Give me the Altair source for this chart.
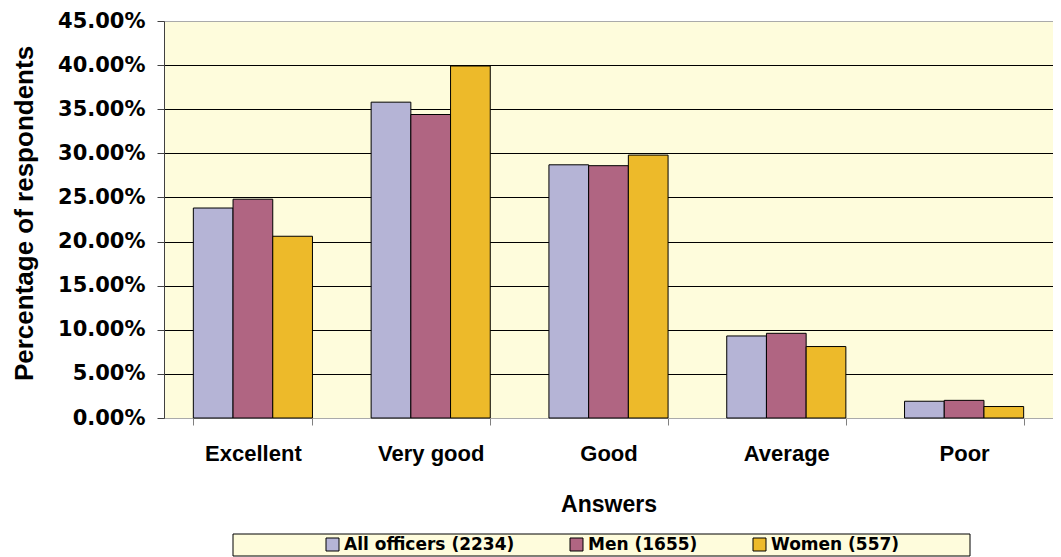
import altair as alt
import pandas as pd

categories = ["Excellent", "Very good", "Good", "Average", "Poor"]
series_names = ["All officers (2234)", "Men (1655)", "Women (557)"]
all_officers = [0.238, 0.358, 0.287, 0.093, 0.019]
men = [0.248, 0.344, 0.286, 0.096, 0.020]
women = [0.206, 0.399, 0.298, 0.081, 0.013]
colors = ["#B5B4D6", "#B06582", "#EDBA2A"]
y_ticks = [0, 0.05, 0.10, 0.15, 0.20, 0.25, 0.30, 0.35, 0.40, 0.45]

rows = []
for name, vals in zip(series_names, [all_officers, men, women]):
    for c, v in zip(categories, vals):
        rows.append({"answer": c, "series": name, "value": v})
df = pd.DataFrame(rows)

bars = alt.Chart(df).mark_bar(stroke="black", strokeWidth=1).encode(
    x=alt.X(
        "answer:N",
        sort=categories,
        scale=alt.Scale(paddingInner=0.33, paddingOuter=0.165),
        axis=alt.Axis(
            title="Answers",
            labelAngle=0,
            tickBand="extent",
            tickSize=7,
            tickColor="#808080",
            domainColor="#AAAAAA",
            labelFont="Liberation Sans",
            labelFontSize=22,
            labelFontWeight="bold",
            labelColor="black",
            labelPadding=18,
            titleFont="Liberation Sans",
            titleFontSize=23,
            titleFontWeight="bold",
            titleColor="black",
            titleY=93,
            titleBaseline="alphabetic",
        ),
    ),
    xOffset=alt.XOffset("series:N", sort=series_names,
                        scale=alt.Scale(paddingInner=0, paddingOuter=0)),
    y=alt.Y(
        "value:Q",
        scale=alt.Scale(domain=[0, 0.45], nice=False),
        axis=alt.Axis(
            title="Percentage of respondents",
            format=".2%",
            values=y_ticks,
            tickSize=7,
            tickColor="#404040",
            domainColor="#404040",
            labelFont="DejaVu Sans",
            labelFontSize=21,
            labelFontWeight="bold",
            labelColor="black",
            labelPadding=12,
            grid=True,
            gridColor={"condition": {"test": "datum.value <= 0 || datum.value >= 0.449",
                                     "value": "#AAAAAA"}, "value": "black"},
            gridWidth=1,
            titleFont="Liberation Sans",
            titleFontSize=26,
            titleFontWeight="bold",
            titleColor="black",
            titleAngle=270,
            titleX=-132,
            titleY=192,
            titleAlign="center",
            titleBaseline="alphabetic",
        ),
    ),
    color=alt.Color(
        "series:N",
        sort=series_names,
        scale=alt.Scale(domain=series_names, range=colors),
        legend=alt.Legend(
            title=None,
            orient="none",
            direction="horizontal",
            legendX=160,
            legendY=515,
            padding=0,
            symbolType="square",
            symbolSize=169,
            symbolStrokeColor="black",
            symbolStrokeWidth=1,
            symbolOpacity=1,
            labelFont="DejaVu Sans",
            labelFontSize=17,
            labelFontWeight="bold",
            labelColor="black",
            labelOffset=3,
            labelLimit=400,
            columnPadding=53,
        ),
    ),
)

box = alt.Chart(pd.DataFrame({"k": [0]})).mark_rect(
    fill="#FEFCDC", stroke="black", strokeWidth=1
).encode(
    x=alt.value(69), x2=alt.value(806), y=alt.value(513), y2=alt.value(535)
)

chart = alt.layer(box, bars).properties(
    width=889,
    height=397,
    padding={"left": 156, "top": 13, "right": 0, "bottom": 139},
    autosize=alt.AutoSizeParams(type="none"),
    background="white",
).configure_view(fill="#FEFCDC", stroke="#AAAAAA", strokeWidth=1)

chart.save("out.html", embed_options={"renderer": "svg", "actions": False})
